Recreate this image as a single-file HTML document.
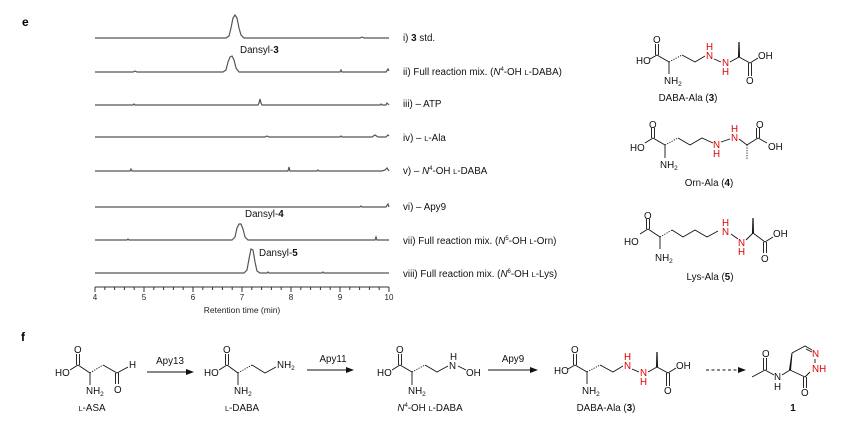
<!DOCTYPE html>
<html><head><meta charset="utf-8"><style>
html,body{margin:0;padding:0;background:#fff;}
svg{display:block;font-family:"Liberation Sans",Arial,sans-serif;}
.b{stroke:#111;stroke-width:0.9;fill:none;}
.t{font-size:9.8px;fill:#111;}
.r{font-size:9.8px;fill:#e00000;}
.lab{font-size:9.8px;fill:#111;}
.tr{stroke:#555;stroke-width:1.2;fill:none;}
</style></head><body>
<svg width="865" height="422" viewBox="0 0 865 422">
<text x="22" y="26" font-size="12" font-weight="bold">e</text>
<text x="21" y="341" font-size="12" font-weight="bold">f</text>

<g class="tr">
<path d="M95 38 L226 38 L229 36 L231 28 L233 18 L235 15 L237 18 L239 28 L241 35 L244 38 L360 38 L362 37 L364 38 L389 38"/>
<path d="M95 72 L133 72 L135 71 L137 72 L223 72 L226 70 L228 62 L230 57 L232 56 L234 60 L236 68 L239 72 L340 72 L341 70 L342 72 L386 72 L388 69 L389 71"/>
<path d="M95 105 L133 105 L134 104 L135 105 L258 105 L259 103 L260 99 L261 103 L262 105 L380 105 L381 104 L382 105 L386 105 L387 103 L389 105"/>
<path d="M95 137 L265 137 L267 136 L269 137 L340 137 L341 136 L342 137 L372 137 L375 135 L378 137 L386 137 L388 135 L389 136"/>
<path d="M95 171 L130 171 L131 169 L132 171 L200 171 L266 171 L268 171 L288 171 L289 167 L290 171 L317 171 L318 170 L319 171 L382 171 L385 170 L387 168 L389 171"/>
<path d="M95 207 L360 207 L361 206 L362 207 L386 207 L388 204 L389 207"/>
<path d="M95 240 L127 240 L128 239 L129 240 L232 240 L235 237 L237 228 L239 224 L241 224 L243 229 L245 237 L248 240 L375 240 L376 237 L377 240 L389 240"/>
<path d="M95 273 L244 273 L247 270 L249 259 L251 249 L253 250 L255 262 L257 271 L260 273 L267 273 L268 272 L269 273 L322 273 L323 272 L324 273 L389 273"/>
</g>
<g stroke="#333" stroke-width="1">
<line x1="95" y1="287" x2="389" y2="287"/>
<line x1="95" y1="287" x2="95" y2="292"/><line x1="144" y1="287" x2="144" y2="292"/><line x1="193" y1="287" x2="193" y2="292"/><line x1="242" y1="287" x2="242" y2="292"/><line x1="291" y1="287" x2="291" y2="292"/><line x1="340" y1="287" x2="340" y2="292"/><line x1="389" y1="287" x2="389" y2="292"/>
<path d="M104.8 287v3M114.6 287v3M124.4 287v3M134.2 287v3M153.8 287v3M163.6 287v3M173.4 287v3M183.2 287v3M202.8 287v3M212.6 287v3M222.4 287v3M232.2 287v3M251.8 287v3M261.6 287v3M271.4 287v3M281.2 287v3M300.8 287v3M310.6 287v3M320.4 287v3M330.2 287v3M349.8 287v3M359.6 287v3M369.4 287v3M379.2 287v3"/>
</g>
<g font-size="8" fill="#222" text-anchor="middle">
<text x="95" y="300">4</text><text x="144" y="300">5</text><text x="193" y="300">6</text><text x="242" y="300">7</text><text x="291" y="300">8</text><text x="340" y="300">9</text><text x="389" y="300">10</text>
<text x="242" y="313" font-size="8.5">Retention time (min)</text>
</g>
<g class="lab">
<text x="240" y="53">Dansyl-<tspan font-weight="bold">3</tspan></text>
<text x="245" y="217">Dansyl-<tspan font-weight="bold">4</tspan></text>
<text x="259" y="256">Dansyl-<tspan font-weight="bold">5</tspan></text>
<text x="403" y="41">i) <tspan font-weight="bold">3</tspan> std.</text>
<text x="403" y="75">ii) Full reaction mix. (<tspan font-style="italic">N</tspan><tspan font-size="6" dy="-4">4</tspan><tspan dy="4">-OH </tspan><tspan font-size="7.5">L</tspan>-DABA)</text>
<text x="403" y="107">iii) – ATP</text>
<text x="403" y="141">iv) – <tspan font-size="7.5">L</tspan>-Ala</text>
<text x="403" y="174">v) – <tspan font-style="italic">N</tspan><tspan font-size="6" dy="-4">4</tspan><tspan dy="4">-OH </tspan><tspan font-size="7.5">L</tspan>-DABA</text>
<text x="403" y="210">vi) – Apy9</text>
<text x="403" y="244">vii) Full reaction mix. (<tspan font-style="italic">N</tspan><tspan font-size="6" dy="-4">5</tspan><tspan dy="4">-OH </tspan><tspan font-size="7.5">L</tspan>-Orn)</text>
<text x="403" y="277">viii) Full reaction mix. (<tspan font-style="italic">N</tspan><tspan font-size="6" dy="-4">6</tspan><tspan dy="4">-OH </tspan><tspan font-size="7.5">L</tspan>-Lys)</text>
</g>

<g>
<path class="b" d="M573.5 365V354M576.5 365V354M575 365L568 369M575 365L587 372M587 372V384M600 365L613 372L623 366M632 369L639 372M648 372L657 367M657 367L668 373L676 368M666.5 373V386M669.5 373V386"/>
<path class="b" stroke-dasharray="1.2 1.3" d="M587 372L600 365"/>
<path d="M656 367L658 367L657.6 352L656.4 352Z" fill="#111"/>
<text class="t" x="571" y="353">O</text>
<text class="t" x="554" y="374">HO</text>
<text class="t" x="582" y="394">NH<tspan font-size="6.5" dy="2">2</tspan></text>
<text class="r" x="624" y="360">H</text><text class="r" x="624" y="369">N</text>
<text class="r" x="640" y="376">N</text><text class="r" x="640" y="385">H</text>
<text class="t" x="676" y="369">OH</text>
<text class="t" x="664" y="394">O</text>
<text class="lab" x="606" y="411" text-anchor="middle">DABA-Ala (<tspan font-weight="bold">3</tspan>)</text>
</g>
<g transform="translate(82,-310)">
<path class="b" d="M573.5 365V354M576.5 365V354M575 365L568 369M575 365L587 372M587 372V384M600 365L613 372L623 366M632 369L639 372M648 372L657 367M657 367L668 373L676 368M666.5 373V386M669.5 373V386"/>
<path class="b" stroke-dasharray="1.2 1.3" d="M587 372L600 365"/>
<path d="M656 367L658 367L657.6 352L656.4 352Z" fill="#111"/>
<text class="t" x="571" y="353">O</text>
<text class="t" x="554" y="374">HO</text>
<text class="t" x="582" y="394">NH<tspan font-size="6.5" dy="2">2</tspan></text>
<text class="r" x="624" y="360">H</text><text class="r" x="624" y="369">N</text>
<text class="r" x="640" y="376">N</text><text class="r" x="640" y="385">H</text>
<text class="t" x="676" y="369">OH</text>
<text class="t" x="664" y="394">O</text>
<text class="lab" x="606" y="411" text-anchor="middle">DABA-Ala (<tspan font-weight="bold">3</tspan>)</text>
</g>

<g>
<path class="b" d="M651.5 138V128M654.5 138V128M653 138L645 143M653 138L665 145M665 145V158M678 138L690 145L702 138L713 143M721 142L730 139M739 139L747 145L758 138L767 143M756.5 138V128M759.5 138V128"/>
<path class="b" stroke-dasharray="1.2 1.3" d="M665 145L678 138"/>
<path class="b" stroke-dasharray="1.2 1.3" stroke-width="2" d="M747 145V160"/>
<text class="t" x="649" y="128">O</text>
<text class="t" x="630" y="151">HO</text>
<text class="t" x="660" y="168">NH<tspan font-size="6.5" dy="2">2</tspan></text>
<text class="r" x="713" y="148">N</text><text class="r" x="713" y="157">H</text>
<text class="r" x="731" y="132">H</text><text class="r" x="731" y="141">N</text>
<text class="t" x="756" y="128">O</text>
<text class="t" x="768" y="150">OH</text>
<text class="lab" x="709" y="186" text-anchor="middle">Orn-Ala (<tspan font-weight="bold">4</tspan>)</text>
</g>

<g>
<path class="b" d="M646.5 229V219M649.5 229V219M648 229L640 234M648 229L660 237M660 237V249M672 230L683 237L695 230L707 237L718 231M731 234L738 239M746 240L753 233M753 233L765 242L773 237M763.5 242V253M766.5 242V253"/>
<path class="b" stroke-dasharray="1.2 1.3" d="M660 237L672 230"/>
<path d="M752 233L754 233L753.6 218L752.4 218Z" fill="#111"/>
<text class="t" x="644" y="219">O</text>
<text class="t" x="624" y="245">HO</text>
<text class="t" x="655" y="261">NH<tspan font-size="6.5" dy="2">2</tspan></text>
<text class="r" x="722" y="226">H</text><text class="r" x="722" y="235">N</text>
<text class="r" x="738" y="246">N</text><text class="r" x="738" y="255">H</text>
<text class="t" x="773" y="237">OH</text>
<text class="t" x="761" y="262">O</text>
<text class="lab" x="710" y="280" text-anchor="middle">Lys-Ala (<tspan font-weight="bold">5</tspan>)</text>
</g>

<g>
<path class="b" d="M76.5 365V354M79.5 365V354M78 365L70 370M78 365L90 373M90 373V385M103 365L117 373L128 367M115.5 373V384M118.5 373V384"/>
<path class="b" stroke-dasharray="1.2 1.3" d="M90 373L103 365"/>
<text class="t" x="74" y="353">O</text>
<text class="t" x="55" y="376">HO</text>
<text class="t" x="86" y="394">NH<tspan font-size="6.5" dy="2">2</tspan></text>
<text class="t" x="129" y="368">H</text>
<text class="t" x="114" y="393">O</text>
<text class="lab" x="92" y="411" text-anchor="middle"><tspan font-size="7.5">L</tspan>-ASA</text>
</g>
<g stroke="#111" stroke-width="1">
<line x1="147" y1="372" x2="188" y2="372"/>
<line x1="307" y1="370" x2="348" y2="370"/>
<line x1="488" y1="370" x2="532" y2="370"/>
<line x1="706" y1="370" x2="740" y2="370" stroke-dasharray="3 2.5"/>
</g>
<path d="M194 372L186 369L186 375Z M354 370L346 367L346 373Z M538 370L530 367L530 373Z M746 370L738 367L738 373Z" fill="#111"/>
<text class="lab" x="170" y="364" text-anchor="middle">Apy13</text>
<text class="lab" x="333" y="362" text-anchor="middle">Apy11</text>
<text class="lab" x="513" y="362" text-anchor="middle">Apy9</text>

<g>
<path class="b" d="M225.5 365V354M228.5 365V354M227 365L219 370M227 365L238 373M238 373V385M252 365L265 373L276 367"/>
<path class="b" stroke-dasharray="1.2 1.3" d="M238 373L252 365"/>
<text class="t" x="223" y="353">O</text>
<text class="t" x="204" y="376">HO</text>
<text class="t" x="234" y="394">NH<tspan font-size="6.5" dy="2">2</tspan></text>
<text class="t" x="277" y="368">NH<tspan font-size="6.5" dy="2">2</tspan></text>
<text class="lab" x="242" y="411" text-anchor="middle"><tspan font-size="7.5">L</tspan>-DABA</text>
</g>

<g>
<path class="b" d="M398.5 365V354M401.5 365V354M400 365L392 370M400 365L412 372M412 372V385M425 365L437 372L448 366M458 366L466 370"/>
<path class="b" stroke-dasharray="1.2 1.3" d="M412 372L425 365"/>
<text class="t" x="396" y="353">O</text>
<text class="t" x="377" y="376">HO</text>
<text class="t" x="408" y="394">NH<tspan font-size="6.5" dy="2">2</tspan></text>
<text class="t" x="450" y="360">H</text><text class="t" x="449" y="369">N</text>
<text class="t" x="466" y="376">OH</text>
<text class="lab" x="430" y="411" text-anchor="middle"><tspan font-style="italic">N</tspan><tspan font-size="6" dy="-4">4</tspan><tspan dy="4">-OH </tspan><tspan font-size="7.5">L</tspan>-DABA</text>
</g>

<g>
<path class="b" d="M752 377L765 370L774 375M763.5 370V358M766.5 370V358M782 375L790 370M805 377L810 372M803.5 377V388M806.5 377V388M805 377L790 370"/>
<path d="M789 370L791 370L792.5 353L791.5 353Z" fill="#111"/>
<path class="b" d="M792 353L805 346L812 350M806 349L812 352"/>
<text class="t" x="762" y="357">O</text>
<text class="t" x="774" y="380">N</text><text class="t" x="774" y="390">H</text>
<text class="r" x="812" y="357">N</text>
<text class="r" x="812" y="372">NH</text>
<path class="b" stroke="#e00" d="M815 359V363"/>
<text class="t" x="801" y="396">O</text>
<text class="lab" x="793" y="411" font-weight="bold" text-anchor="middle">1</text>
</g>
</svg>
</body></html>
